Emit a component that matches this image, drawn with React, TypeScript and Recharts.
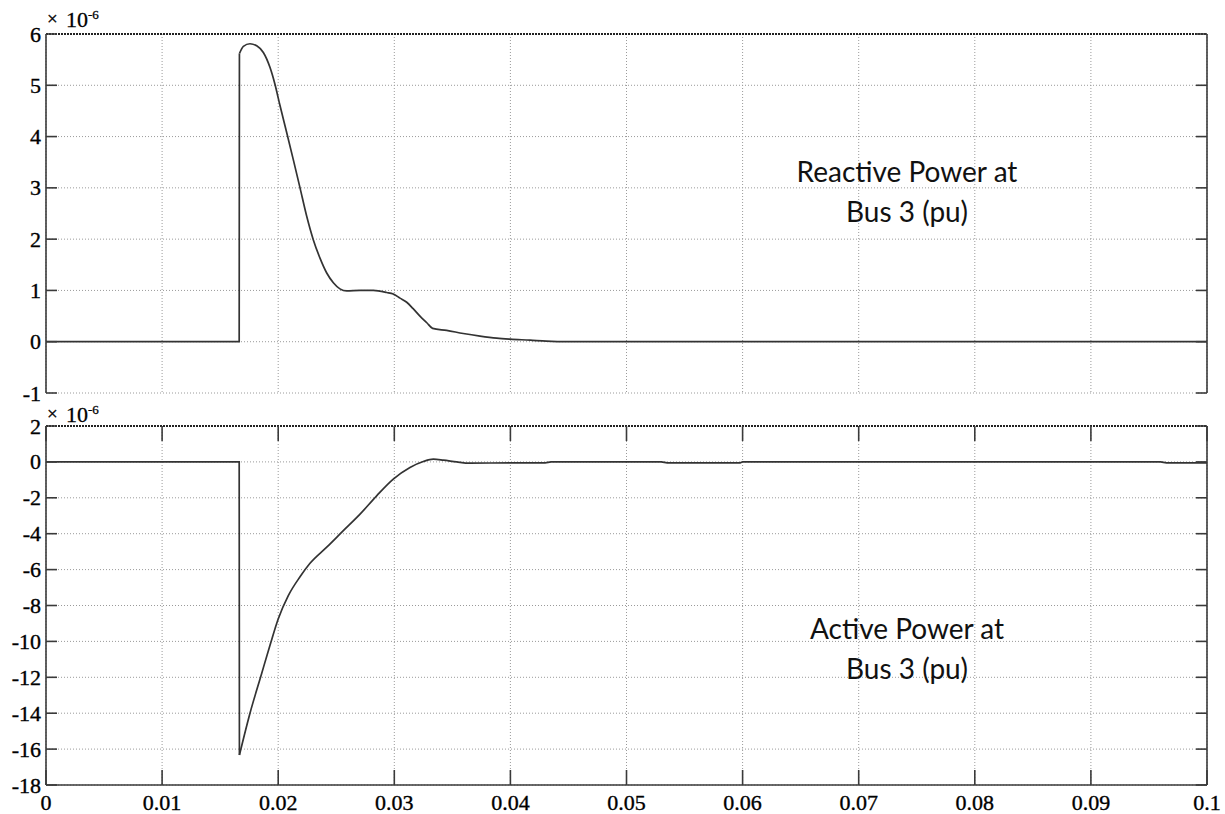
import React from 'react';
import { LineChart, Line, XAxis, YAxis, CartesianGrid, ReferenceLine } from 'recharts';

// ---------- data ----------
const xTicks = [0, 0.01, 0.02, 0.03, 0.04, 0.05, 0.06, 0.07, 0.08, 0.09, 0.1];
const reactiveTicks = [-1, 0, 1, 2, 3, 4, 5, 6];
const activeTicks = [-18, -16, -14, -12, -10, -8, -6, -4, -2, 0, 2];

// index of the sample right after the fault step (start of the smooth response)
const STEP_INDEX = 2;

// Reactive power at bus 3 (x 1e-6 pu)
const reactiveT = [
  0, 0.01664, 0.01666, 0.0170, 0.01757, 0.01815, 0.01872, 0.01929, 0.01972, 0.02016,
  0.02073, 0.0213, 0.02188, 0.02245, 0.02302, 0.0236, 0.02418, 0.02475, 0.02532, 0.0259,
  0.02705, 0.02819, 0.02935, 0.02991, 0.03049, 0.03107, 0.0316, 0.03221, 0.0328, 0.0333,
  0.03451, 0.03594, 0.03738, 0.03882, 0.04, 0.0417, 0.0431, 0.045, 0.1,
];
const reactiveQ = [
  0, 0, 5.62, 5.76, 5.81, 5.77, 5.64, 5.35, 5.02, 4.6,
  4.08, 3.55, 3.0, 2.45, 1.99, 1.63, 1.34, 1.15, 1.03, 0.99,
  1.0, 1.0, 0.96, 0.93, 0.85, 0.77, 0.65, 0.5, 0.37, 0.26,
  0.22, 0.16, 0.11, 0.07, 0.05, 0.03, 0.01, 0, 0,
];

// Active power at bus 3 (x 1e-6 pu)
const activeT = [
  0, 0.01664, 0.01666, 0.01757, 0.01857, 0.0193, 0.02, 0.02087, 0.02188, 0.02274,
  0.02418, 0.02561, 0.02705, 0.02848, 0.02991, 0.03135, 0.0325, 0.03336, 0.03422, 0.03537,
  0.0365, 0.04, 0.043, 0.0435, 0.053, 0.0535, 0.0598, 0.06, 0.096, 0.0965, 0.1,
];
const activeP = [
  0, 0, -16.33, -14.0, -11.8, -10.2, -8.75, -7.45, -6.4, -5.65,
  -4.75, -3.83, -2.91, -1.89, -0.96, -0.31, 0.02, 0.15, 0.1, 0,
  -0.07, -0.05, -0.05, 0, 0, -0.05, -0.05, 0, 0, -0.05, -0.05,
];

const split = (ts: number[], vs: number[]) =>
  ts.map((t, i) => ({
    t,
    pre: i <= STEP_INDEX ? vs[i] : null,
    post: i >= STEP_INDEX ? vs[i] : null,
  }));

const reactiveData = split(reactiveT, reactiveQ);
const activeData = split(activeT, activeP);

// ---------- layout ----------
const W = 1225;
const L = 46;
const R = 1207;
const TOP1 = 34;
const BOT1 = 393;
const TOP2 = 16; // within second chart (absolute 426)
const BOT2 = 375; // within second chart (absolute 785)
const AX = '#3a3a3a';
const GRID = '#9a9a9a';
const LINE = '#333';
const SERIF = '"Liberation Serif", "Times New Roman", serif';
const SANS = 'Lato, "Open Sans", "Noto Sans", sans-serif';

const makeYTick = () => (props: any) => {
  const { y, payload } = props;
  return (
    <g>
      <line x1={L} x2={L + 11} y1={y} y2={y} stroke={AX} strokeWidth={1.6} />
      <line x1={R - 11} x2={R} y1={y} y2={y} stroke={AX} strokeWidth={1.6} />
      <text x={41} y={y} textAnchor="end" dominantBaseline="central" fontFamily={SERIF} fontSize={22} fill="#000" stroke="#000" strokeWidth={0.35}>
        {String(payload.value)}
      </text>
    </g>
  );
};

const makeXTick = (top: number, bottom: number, withLabel: boolean) => (props: any) => {
  const { x, payload } = props;
  return (
    <g>
      <line x1={x} x2={x} y1={top} y2={top + 15} stroke={AX} strokeWidth={1.6} />
      <line x1={x} x2={x} y1={bottom - 15} y2={bottom} stroke={AX} strokeWidth={1.6} />
      {withLabel ? (
        <text x={x} y={bottom + 25} textAnchor="middle" fontFamily={SERIF} fontSize={22} fill="#000" stroke="#000" strokeWidth={0.35}>
          {String(payload.value)}
        </text>
      ) : null}
    </g>
  );
};

const Exp = ({ base }: { base: number }) => (
  <g fontFamily={SERIF} fill="#000" stroke="#000" strokeWidth={0.3}>
    <text x={47} y={base - 2} fontSize={19}>×</text>
    <text x={66} y={base} fontSize={22}>10</text>
    <text x={88} y={base - 8} fontSize={13}>-6</text>
  </g>
);

const Note = ({ lines, top }: { lines: string[]; top: number }) => (
  <div style={{ position: 'absolute', left: 707, width: 400, top, textAlign: 'center', fontFamily: SANS, fontSize: 28, lineHeight: '40px', color: '#111' }}>
    {lines.map((s) => (
      <div key={s}>{s}</div>
    ))}
  </div>
);

export default function App() {
  return (
    <div style={{ position: 'absolute', left: 0, top: 0, width: W, height: 814, background: '#fff', overflow: 'hidden' }}>
      <div style={{ position: 'absolute', left: 0, top: 0 }}>
        <LineChart width={W} height={410} data={reactiveData} margin={{ top: TOP1, right: W - R, bottom: 17, left: 0 }}>
          <CartesianGrid stroke={GRID} strokeDasharray="1 2" />
          <XAxis
            dataKey="t"
            type="number"
            domain={[0, 0.1]}
            ticks={xTicks}
            interval={0}
            height={0}
            tickLine={false}
            axisLine={{ stroke: AX, strokeWidth: 1.6 }}
            tick={makeXTick(TOP1, BOT1, false)}
            allowDataOverflow
          />
          <YAxis
            type="number"
            domain={[-1, 6]}
            ticks={reactiveTicks}
            interval={0}
            width={L}
            tickLine={false}
            axisLine={{ stroke: AX, strokeWidth: 1.6 }}
            tick={makeYTick()}
            allowDataOverflow
          />
          <ReferenceLine y={6} stroke="#222" strokeWidth={1.8} strokeDasharray="2 1" />
          <ReferenceLine x={0.1} stroke={AX} strokeWidth={1.6} />
          <Line dataKey="pre" type="linear" stroke={LINE} strokeWidth={1.7} dot={false} isAnimationActive={false} />
          <Line dataKey="post" type="monotoneX" stroke={LINE} strokeWidth={1.7} dot={false} isAnimationActive={false} />
        </LineChart>
      </div>
      <div style={{ position: 'absolute', left: 0, top: 410 }}>
        <LineChart width={W} height={404} data={activeData} margin={{ top: TOP2, right: W - R, bottom: 0, left: 0 }}>
          <CartesianGrid stroke={GRID} strokeDasharray="1 2" />
          <XAxis
            dataKey="t"
            type="number"
            domain={[0, 0.1]}
            ticks={xTicks}
            interval={0}
            height={29}
            tickLine={false}
            axisLine={{ stroke: AX, strokeWidth: 1.6 }}
            tick={makeXTick(TOP2, BOT2, true)}
            allowDataOverflow
          />
          <YAxis
            type="number"
            domain={[-18, 2]}
            ticks={activeTicks}
            interval={0}
            width={L}
            tickLine={false}
            axisLine={{ stroke: AX, strokeWidth: 1.6 }}
            tick={makeYTick()}
            allowDataOverflow
          />
          <ReferenceLine y={2} stroke="#222" strokeWidth={1.8} strokeDasharray="2 1" />
          <ReferenceLine x={0.1} stroke={AX} strokeWidth={1.6} />
          <Line dataKey="pre" type="linear" stroke={LINE} strokeWidth={1.7} dot={false} isAnimationActive={false} />
          <Line dataKey="post" type="monotoneX" stroke={LINE} strokeWidth={1.7} dot={false} isAnimationActive={false} />
        </LineChart>
      </div>
      <svg width={W} height={814} style={{ position: 'absolute', left: 0, top: 0, pointerEvents: 'none' }}>
        <Exp base={27} />
        <Exp base={422} />
      </svg>
      <Note lines={['Reactive Power at', 'Bus 3 (pu)']} top={151} />
      <Note lines={['Active Power at', 'Bus 3 (pu)']} top={608} />
    </div>
  );
}
